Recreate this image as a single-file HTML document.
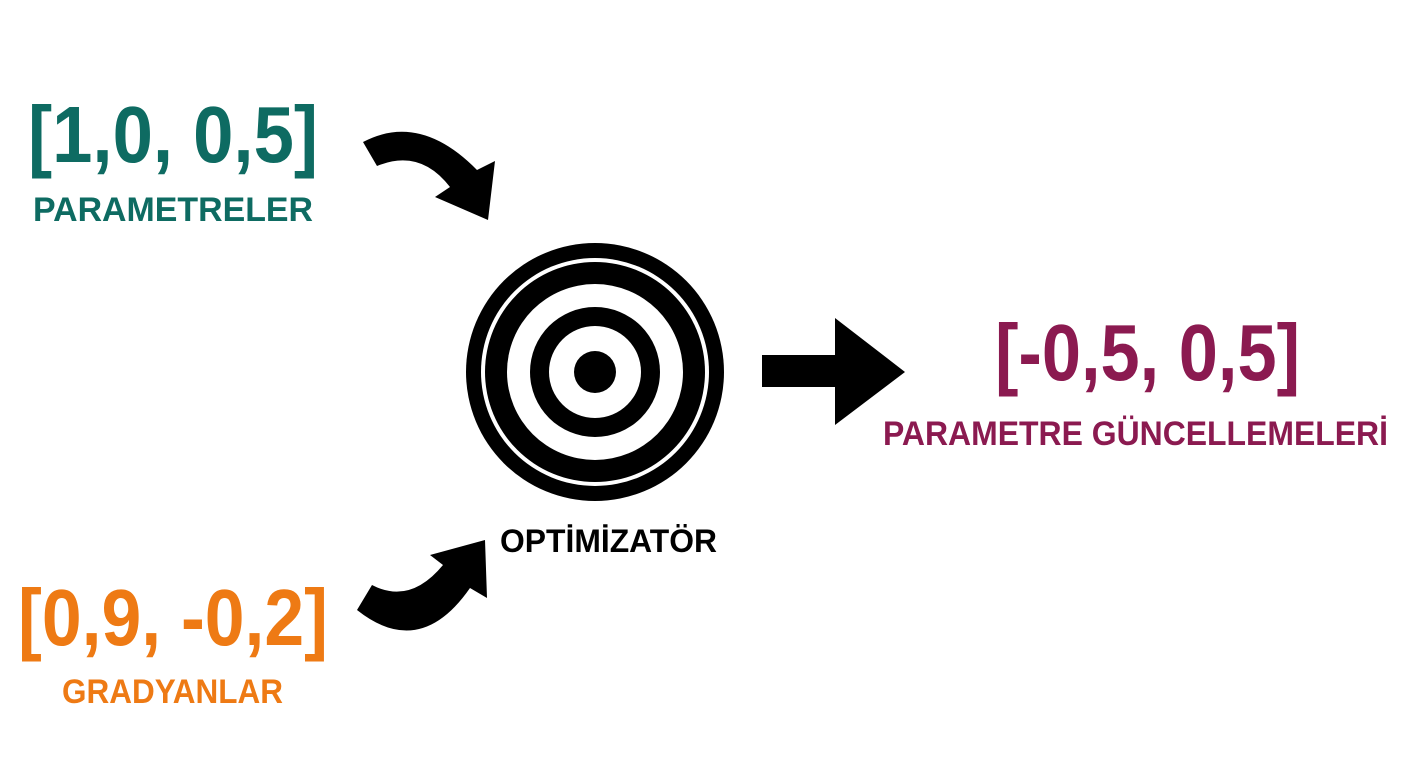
<!DOCTYPE html>
<html><head><meta charset="utf-8"><style>
html,body{margin:0;padding:0;background:#fff;}
svg{display:block;}
text{font-family:"Liberation Sans",Arial,sans-serif;font-weight:bold;}
</style></head><body>
<svg width="1408" height="768" viewBox="0 0 1408 768" xmlns="http://www.w3.org/2000/svg">
<rect width="1408" height="768" fill="#fff"/>
<text x="28" y="162" font-size="80" fill="#0e6b62" textLength="290" lengthAdjust="spacingAndGlyphs">[1,0, 0,5]</text>
<text x="33" y="221" font-size="34" fill="#0e6b62" textLength="280" lengthAdjust="spacingAndGlyphs">PARAMETRELER</text>
<text x="18" y="645" font-size="80" fill="#ee7a14" textLength="310" lengthAdjust="spacingAndGlyphs">[0,9, -0,2]</text>
<text x="62" y="703" font-size="34" fill="#ee7a14" textLength="221" lengthAdjust="spacingAndGlyphs">GRADYANLAR</text>
<text x="995" y="380" font-size="80" fill="#8b1a50" textLength="305" lengthAdjust="spacingAndGlyphs">[-0,5, 0,5]</text>
<text x="883" y="445" font-size="34" fill="#8b1a50" textLength="505" lengthAdjust="spacingAndGlyphs">PARAMETRE GÜNCELLEMELERİ</text>
<text x="500" y="552" font-size="32" fill="#000" textLength="217" lengthAdjust="spacingAndGlyphs">OPTİMİZATÖR</text>
<g fill="#000">
<circle cx="595" cy="372" r="129"/>
<circle cx="595" cy="372" r="114" fill="#fff"/>
<circle cx="595" cy="372" r="110"/>
<circle cx="595" cy="372" r="88" fill="#fff"/>
<circle cx="595" cy="372" r="65"/>
<circle cx="595" cy="372" r="46" fill="#fff"/>
<circle cx="595" cy="372" r="21"/>
<path d="M762,355 L835,355 L835,318 L905,372 L835,425 L835,387 L762,387 Z"/>
<path d="M363,142 Q420,112 477,170 L495,161 L488,220 L435,197 L450,187 Q420,148 377,166 Z"/>
<path d="M372,585 Q410,605 443,565 L430,555 L485,540 L487,598 L470,588 Q420,660 357,610 Z"/>
</g>
</svg>
</body></html>
